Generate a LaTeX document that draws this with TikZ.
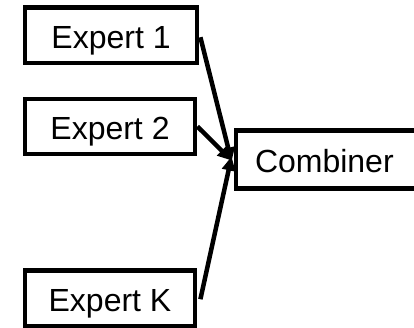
\documentclass[tikz,border=0pt]{standalone}
\usepackage{fontspec}
\setmainfont{Liberation Sans}
\usetikzlibrary{arrows.meta}
\begin{document}
\begin{tikzpicture}[x=1pt,y=-1pt,
  box/.style={draw=black, line width=4.8pt, fill=white, inner sep=0pt,
    text height=27pt, text depth=0pt,
    font=\fontsize{32}{36}\selectfont},
  link/.style={draw=black, line width=4.5pt,
    -{Triangle[length=14pt,width=13pt]}}]
  \clip (0,0) rectangle (414,328);
  \fill[white] (0,0) rectangle (414,328);
  % expert boxes
  \node[box, minimum width=172pt, minimum height=55.5pt] (e1) at (111,35.25) {Expert 1};
  \node[box, minimum width=170pt, minimum height=55pt] (e2) at (110,126.5) {Expert 2};
  \node[box, minimum width=170pt, minimum height=55.5pt] (ek) at (110,298.25) {Expert K};
  % combiner box, running off the right side
  \node[box, minimum width=190pt, minimum height=58pt, text width=170pt, align=left] (comb) at (331,159.5) {\hspace*{9pt}Combiner};
  % connectors
  \draw[link] ([xshift=1pt,yshift=-2pt]e1.east) -- ([xshift=-2pt,yshift=-2pt]comb.west);
  \draw[link] (e2.east) -- ([xshift=-2pt,yshift=-1pt]comb.west);
  \draw[link] ([xshift=3pt,yshift=-1pt]ek.east) -- ([xshift=-2pt,yshift=3pt]comb.west);
\end{tikzpicture}
\end{document}
